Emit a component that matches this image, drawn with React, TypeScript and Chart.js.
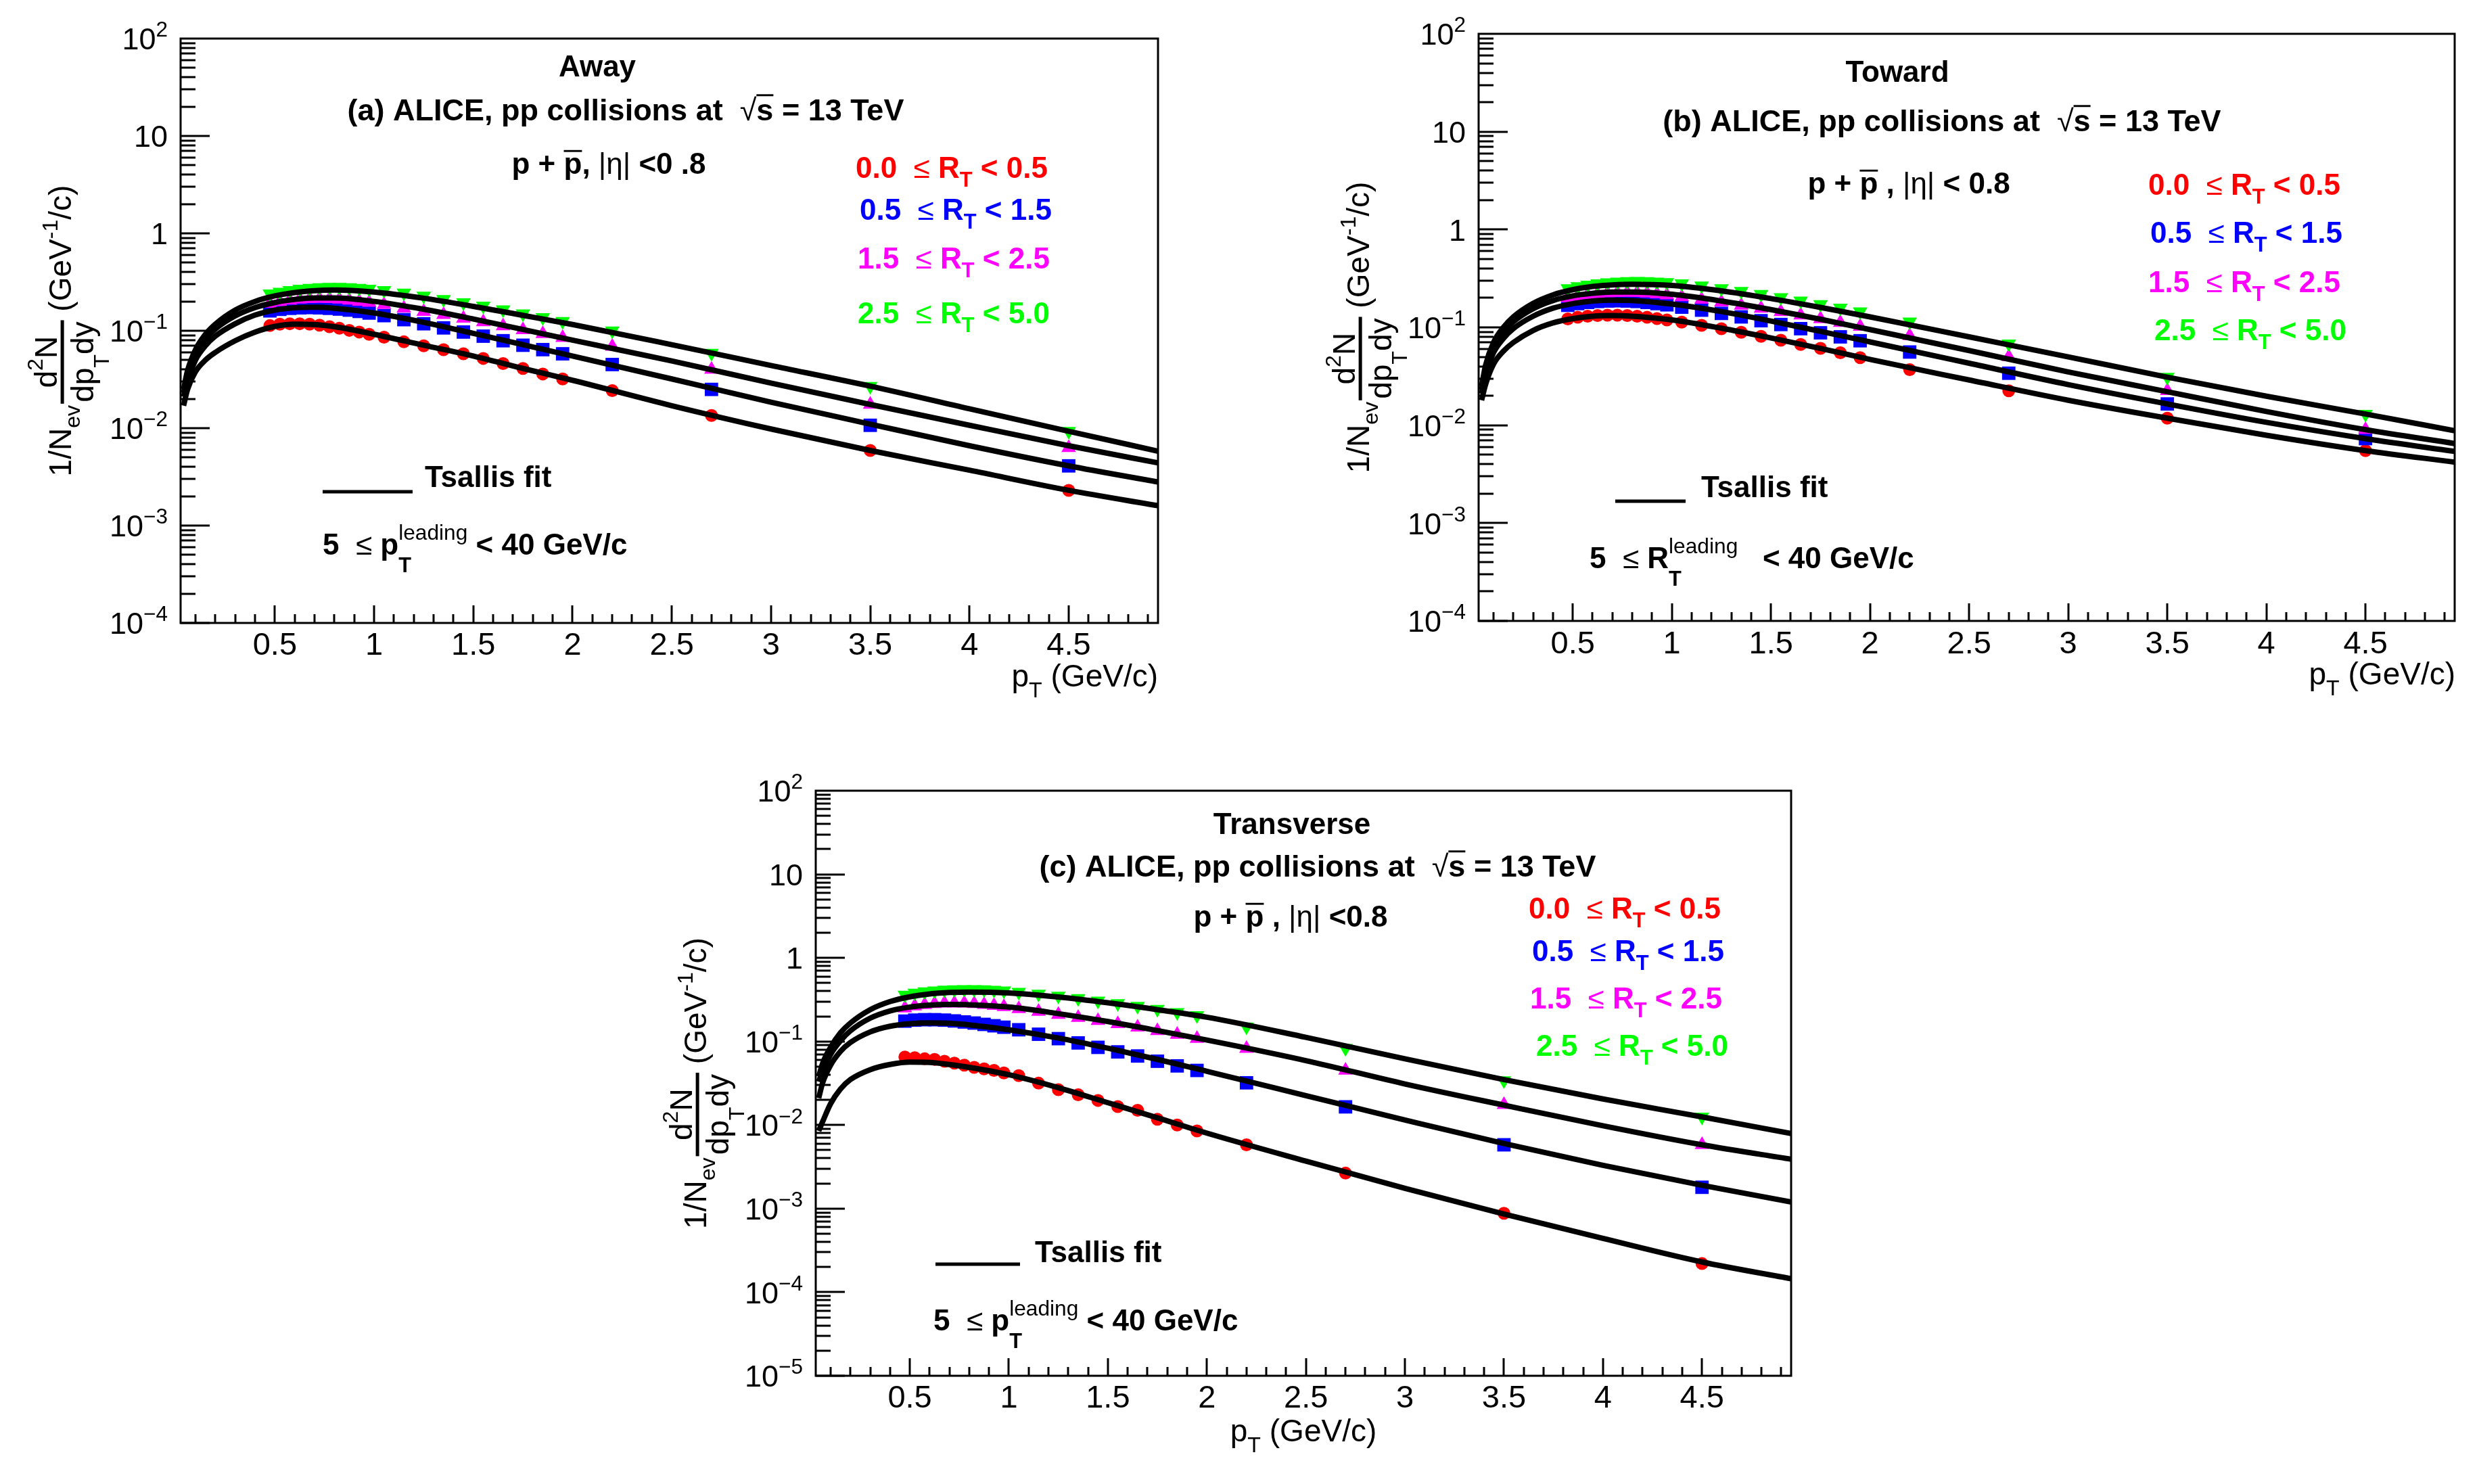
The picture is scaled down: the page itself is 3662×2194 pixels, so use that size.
import { useEffect, useRef } from "react";
import Chart from "chart.js/auto";

const W = 3662;
const H = 2194;
const X_MIN = 0.025;
const X_MAX = 4.95;
const FONT = '"Liberation Sans", Arial, Helvetica, sans-serif';

// pT bin centres of the measured points (GeV/c)
const ptPoints = [
  0.475, 0.525, 0.575, 0.625, 0.675, 0.725, 0.775, 0.825, 0.875, 0.925, 0.975,
  1.05, 1.15, 1.25, 1.35, 1.45, 1.55, 1.65, 1.75, 1.85, 1.95, 2.2, 2.7, 3.5, 4.5,
];
const ptFit = [
  0.04, 0.06, 0.1, 0.15, 0.2, 0.3, 0.4, 0.5, 0.6, 0.7, 0.8, 1.0, 1.25, 1.5, 1.75,
  2.0, 2.5, 3.0, 3.5, 4.0, 4.5, 4.95,
];

// R_T class edges
const rtLow = ["0.0", "0.5", "1.5", "2.5"];
const rtHigh = ["0.5", "1.5", "2.5", "5.0"];

// (a) Away
const awayRt0 = [0.113, 0.117, 0.118, 0.118, 0.117, 0.114, 0.11, 0.106, 0.101, 0.097, 0.092, 0.086, 0.077, 0.07, 0.064, 0.058, 0.052, 0.046, 0.041, 0.036, 0.032, 0.0243, 0.0135, 0.0059, 0.0023];
const awayRt1 = [0.16, 0.166, 0.17, 0.172, 0.173, 0.172, 0.17, 0.167, 0.163, 0.158, 0.152, 0.143, 0.13, 0.118, 0.107, 0.097, 0.088, 0.079, 0.071, 0.064, 0.058, 0.045, 0.025, 0.0107, 0.0041];
const awayRt2 = [0.19, 0.198, 0.205, 0.21, 0.213, 0.214, 0.213, 0.21, 0.205, 0.2, 0.195, 0.185, 0.17, 0.157, 0.146, 0.134, 0.123, 0.112, 0.102, 0.093, 0.085, 0.069, 0.04, 0.0175, 0.0063];
const awayRt3 = [0.24, 0.25, 0.26, 0.268, 0.274, 0.278, 0.28, 0.28, 0.278, 0.274, 0.268, 0.26, 0.245, 0.228, 0.21, 0.195, 0.18, 0.165, 0.15, 0.137, 0.125, 0.1, 0.059, 0.027, 0.0093];
const awayFit0 = [0.017, 0.025, 0.038, 0.05, 0.06, 0.079, 0.097, 0.111, 0.117, 0.116, 0.11, 0.092, 0.071, 0.055, 0.041, 0.031, 0.017, 0.0098, 0.0059, 0.0037, 0.0023, 0.0016];
const awayFit1 = [0.021, 0.031, 0.05, 0.07, 0.088, 0.118, 0.145, 0.163, 0.172, 0.174, 0.17, 0.152, 0.122, 0.094, 0.072, 0.055, 0.032, 0.0185, 0.011, 0.0066, 0.0041, 0.0028];
const awayFit2 = [0.023, 0.035, 0.058, 0.082, 0.104, 0.142, 0.173, 0.195, 0.21, 0.217, 0.217, 0.2, 0.166, 0.132, 0.103, 0.08, 0.049, 0.029, 0.0175, 0.0107, 0.0066, 0.0044];
const awayFit3 = [0.025, 0.039, 0.064, 0.092, 0.117, 0.163, 0.2, 0.228, 0.247, 0.258, 0.262, 0.25, 0.216, 0.178, 0.144, 0.116, 0.072, 0.044, 0.027, 0.0158, 0.0093, 0.0058];

// (b) Toward
const towardRt0 = [0.122, 0.127, 0.13, 0.132, 0.133, 0.133, 0.132, 0.13, 0.127, 0.123, 0.119, 0.113, 0.105, 0.097, 0.089, 0.081, 0.074, 0.067, 0.061, 0.055, 0.049, 0.037, 0.0225, 0.0118, 0.0055];
const towardRt1 = [0.168, 0.175, 0.18, 0.184, 0.186, 0.187, 0.186, 0.184, 0.18, 0.175, 0.17, 0.161, 0.15, 0.139, 0.128, 0.117, 0.107, 0.097, 0.088, 0.08, 0.073, 0.056, 0.034, 0.0165, 0.0073];
const towardRt2 = [0.2, 0.208, 0.215, 0.22, 0.224, 0.226, 0.227, 0.226, 0.223, 0.219, 0.214, 0.205, 0.193, 0.181, 0.168, 0.156, 0.144, 0.133, 0.122, 0.112, 0.102, 0.082, 0.05, 0.0225, 0.009];
const towardRt3 = [0.25, 0.262, 0.272, 0.28, 0.287, 0.292, 0.295, 0.296, 0.295, 0.292, 0.288, 0.28, 0.266, 0.25, 0.234, 0.218, 0.202, 0.187, 0.172, 0.158, 0.145, 0.114, 0.068, 0.031, 0.013];
const towardFit0 = [0.018, 0.026, 0.042, 0.057, 0.07, 0.093, 0.111, 0.123, 0.13, 0.132, 0.13, 0.119, 0.098, 0.078, 0.061, 0.047, 0.029, 0.018, 0.0118, 0.0079, 0.0055, 0.0042];
const towardFit1 = [0.021, 0.033, 0.055, 0.077, 0.097, 0.13, 0.157, 0.175, 0.186, 0.19, 0.188, 0.173, 0.145, 0.116, 0.091, 0.071, 0.043, 0.026, 0.0165, 0.0107, 0.0073, 0.0054];
const towardFit2 = [0.023, 0.037, 0.062, 0.089, 0.114, 0.155, 0.188, 0.21, 0.223, 0.23, 0.23, 0.218, 0.186, 0.152, 0.121, 0.095, 0.058, 0.035, 0.022, 0.0138, 0.009, 0.0065];
const towardFit3 = [0.025, 0.041, 0.07, 0.1, 0.128, 0.176, 0.215, 0.243, 0.262, 0.272, 0.276, 0.268, 0.236, 0.197, 0.16, 0.128, 0.08, 0.05, 0.031, 0.0198, 0.013, 0.0088];

// (c) Transverse
const transRt0 = [0.065, 0.064, 0.062, 0.061, 0.058, 0.055, 0.052, 0.049, 0.047, 0.045, 0.042, 0.039, 0.0317, 0.0265, 0.023, 0.0197, 0.0166, 0.015, 0.0117, 0.01, 0.0085, 0.0058, 0.00266, 0.00088, 0.00022];
const transRt1 = [0.175, 0.18, 0.182, 0.182, 0.18, 0.176, 0.171, 0.166, 0.16, 0.154, 0.148, 0.138, 0.122, 0.108, 0.096, 0.085, 0.075, 0.067, 0.058, 0.051, 0.045, 0.032, 0.0165, 0.0058, 0.0018];
const transRt2 = [0.25, 0.265, 0.275, 0.282, 0.286, 0.287, 0.286, 0.282, 0.276, 0.268, 0.26, 0.246, 0.228, 0.21, 0.193, 0.177, 0.162, 0.148, 0.134, 0.121, 0.108, 0.082, 0.045, 0.0175, 0.0058];
const transRt3 = [0.36, 0.38, 0.395, 0.405, 0.413, 0.418, 0.42, 0.42, 0.418, 0.412, 0.405, 0.39, 0.37, 0.35, 0.328, 0.305, 0.285, 0.264, 0.243, 0.223, 0.205, 0.15, 0.083, 0.034, 0.0125];
const transFit0 = [0.0085, 0.011, 0.018, 0.027, 0.035, 0.046, 0.053, 0.0565, 0.056, 0.053, 0.049, 0.04, 0.028, 0.0185, 0.0122, 0.008, 0.0037, 0.00175, 0.00086, 0.00044, 0.00023, 0.000145];
const transFit1 = [0.021, 0.032, 0.052, 0.076, 0.097, 0.13, 0.152, 0.163, 0.167, 0.165, 0.158, 0.138, 0.11, 0.083, 0.061, 0.044, 0.0225, 0.0115, 0.006, 0.0033, 0.0019, 0.0012];
const transFit2 = [0.033, 0.045, 0.07, 0.102, 0.134, 0.19, 0.232, 0.258, 0.272, 0.277, 0.275, 0.258, 0.215, 0.173, 0.135, 0.104, 0.059, 0.031, 0.0173, 0.0098, 0.0058, 0.0039];
const transFit3 = [0.038, 0.055, 0.085, 0.127, 0.166, 0.24, 0.3, 0.342, 0.37, 0.385, 0.39, 0.38, 0.34, 0.29, 0.24, 0.195, 0.112, 0.062, 0.035, 0.0205, 0.0125, 0.0079];

const colors = ["#ff0000", "#0000ff", "#ff00ff", "#00ff00"];

type Seg = { t: string; k?: number; dy?: number; w?: "b" | "n"; bar?: number; hold?: boolean };
type Pt = { x: number; y: number };

type Panel = {
  key: string;
  frame: { l: number; t: number; r: number; b: number };
  yMinExp: number;
  yMaxExp: number;
  points: number[][];
  fits: number[][];
  region: string;
  regionPos: Pt;
  header: string;
  headerPos: Pt;
  cut: Seg[];
  cutPos: Pt;
  legendPos: Pt[];
  fitLine: { x1: number; x2: number; y: number };
  fitLabel: Pt;
  leadVar: string;
  leadGap: string;
  leadPos: Pt;
  xTitle: Pt & { align: "right" | "center" };
  tickBase: number;
};

const panels: Panel[] = [
  {
    key: "away",
    frame: { l: 267, t: 57, r: 1712, b: 921 },
    yMinExp: -4,
    yMaxExp: 2,
    points: [awayRt0, awayRt1, awayRt2, awayRt3],
    fits: [awayFit0, awayFit1, awayFit2, awayFit3],
    region: "Away",
    regionPos: { x: 883, y: 113 },
    header: "(a)",
    headerPos: { x: 925, y: 178 },
    cut: [{ t: "p + " }, { t: "p", bar: 0.8 }, { t: ", " }, { t: "|η|", w: "n" }, { t: " <0 .8" }],
    cutPos: { x: 900, y: 257 },
    legendPos: [{ x: 1265, y: 263 }, { x: 1271, y: 325 }, { x: 1268, y: 397 }, { x: 1268, y: 478 }],
    fitLine: { x1: 477, x2: 610, y: 727 },
    fitLabel: { x: 628, y: 720 },
    leadVar: "p",
    leadGap: " ",
    leadPos: { x: 477, y: 820 },
    xTitle: { x: 1712, y: 1015, align: "right" },
    tickBase: 968,
  },
  {
    key: "toward",
    frame: { l: 2186, t: 50, r: 3629, b: 918 },
    yMinExp: -4,
    yMaxExp: 2,
    points: [towardRt0, towardRt1, towardRt2, towardRt3],
    fits: [towardFit0, towardFit1, towardFit2, towardFit3],
    region: "Toward",
    regionPos: { x: 2805, y: 121 },
    header: "(b)",
    headerPos: { x: 2871, y: 194 },
    cut: [{ t: "p + " }, { t: "p", bar: 0.8 }, { t: " , " }, { t: "|η|", w: "n" }, { t: " < 0.8" }],
    cutPos: { x: 2822, y: 286 },
    legendPos: [{ x: 3176, y: 288 }, { x: 3179, y: 359 }, { x: 3176, y: 432 }, { x: 3185, y: 503 }],
    fitLine: { x1: 2388, x2: 2492, y: 741 },
    fitLabel: { x: 2515, y: 735 },
    leadVar: "R",
    leadGap: "   ",
    leadPos: { x: 2350, y: 840 },
    xTitle: { x: 3630, y: 1012, align: "right" },
    tickBase: 966,
  },
  {
    key: "transverse",
    frame: { l: 1206, t: 1169, r: 2648, b: 2034 },
    yMinExp: -5,
    yMaxExp: 2,
    points: [transRt0, transRt1, transRt2, transRt3],
    fits: [transFit0, transFit1, transFit2, transFit3],
    region: "Transverse",
    regionPos: { x: 1910, y: 1233 },
    header: "(c)",
    headerPos: { x: 1948, y: 1296 },
    cut: [{ t: "p + " }, { t: "p", bar: 0.8 }, { t: " , " }, { t: "|η|", w: "n" }, { t: " <0.8" }],
    cutPos: { x: 1908, y: 1370 },
    legendPos: [{ x: 2260, y: 1358 }, { x: 2265, y: 1421 }, { x: 2262, y: 1491 }, { x: 2271, y: 1561 }],
    fitLine: { x1: 1383, x2: 1508, y: 1869 },
    fitLabel: { x: 1530, y: 1866 },
    leadVar: "p",
    leadGap: " ",
    leadPos: { x: 1380, y: 1967 },
    xTitle: { x: 1927, y: 2131, align: "center" },
    tickBase: 2081,
  },
];

function fontFor(size: number, bold: boolean) {
  return `${bold ? "bold " : ""}${size.toFixed(1)}px ${FONT}`;
}

function segWidth(ctx: CanvasRenderingContext2D, s: Seg, size: number, bold: boolean) {
  ctx.font = fontFor(size * (s.k ?? 1), s.w ? s.w === "b" : bold);
  return ctx.measureText(s.t).width;
}

function richWidth(ctx: CanvasRenderingContext2D, segs: Seg[], size: number, bold: boolean) {
  let w = 0;
  let held = 0;
  for (const s of segs) {
    const sw = segWidth(ctx, s, size, bold);
    if (s.hold) held = Math.max(held, sw);
    else {
      w += Math.max(sw, held);
      held = 0;
    }
  }
  return w + held;
}

function drawRich(
  ctx: CanvasRenderingContext2D,
  segs: Seg[],
  x: number,
  y: number,
  size: number,
  bold: boolean,
  align: "left" | "center" | "right" = "left",
) {
  const total = richWidth(ctx, segs, size, bold);
  let cx = align === "center" ? x - total / 2 : align === "right" ? x - total : x;
  let held = 0;
  ctx.textAlign = "left";
  ctx.textBaseline = "alphabetic";
  for (const s of segs) {
    const sw = segWidth(ctx, s, size, bold);
    ctx.fillText(s.t, cx, y + (s.dy ?? 0) * size);
    if (s.bar) ctx.fillRect(cx, y - s.bar * size, sw, Math.max(2.5, 0.065 * size));
    if (s.hold) held = Math.max(held, sw);
    else {
      cx += Math.max(sw, held);
      held = 0;
    }
  }
}

// 1/N_ev d2N/(dpT dy) (GeV^-1/c), rotated, baseline at xBase
function drawYTitle(ctx: CanvasRenderingContext2D, xBase: number, yCenter: number) {
  const size = 46;
  const a: Seg[] = [{ t: "1/N" }, { t: "ev", k: 0.7, dy: 0.28 }];
  const num: Seg[] = [{ t: "d" }, { t: "2", k: 0.7, dy: -0.46 }, { t: "N" }];
  const den: Seg[] = [{ t: "dp" }, { t: "T", k: 0.7, dy: 0.5 }, { t: "dy" }];
  const c: Seg[] = [{ t: " (GeV" }, { t: "-1", k: 0.7, dy: -0.44 }, { t: "/c)" }];
  const wa = richWidth(ctx, a, size, false);
  const wf = Math.max(richWidth(ctx, num, size, false), richWidth(ctx, den, size, false)) + 4;
  const wc = richWidth(ctx, c, size, false);
  const gap = 2;
  const total = wa + gap + wf + wc;
  ctx.save();
  ctx.translate(xBase, yCenter);
  ctx.rotate(-Math.PI / 2);
  let x = -total / 2;
  drawRich(ctx, a, x, 0, size, false);
  x += wa + gap;
  drawRich(ctx, num, x + wf / 2, -0.46 * size, size, false, "center");
  drawRich(ctx, den, x + wf / 2, 0.72 * size, size, false, "center");
  ctx.fillRect(x, -0.28 * size - 2.5, wf, 5);
  x += wf;
  drawRich(ctx, c, x, 0, size, false);
  ctx.restore();
}

function decorPlugin(p: Panel) {
  return {
    id: "rootDecor",
    afterDraw(chart: any) {
      const ctx = chart.ctx as CanvasRenderingContext2D;
      const xs = chart.scales.x;
      const ys = chart.scales.y;
      const { l, t, r, b } = p.frame;
      ctx.save();
      ctx.strokeStyle = "#000";
      ctx.fillStyle = "#000";
      ctx.lineWidth = 3;
      ctx.strokeRect(l, t, r - l, b - t);

      ctx.beginPath();
      for (let e = p.yMinExp; e < p.yMaxExp; e++) {
        for (let k = 1; k <= 9; k++) {
          const y = Math.round(ys.getPixelForValue(k * Math.pow(10, e)));
          ctx.moveTo(l, y);
          ctx.lineTo(l + (k === 1 ? 43 : 22), y);
        }
      }
      for (let i = 1; i < 50; i++) {
        const v = i / 10;
        if (v <= X_MIN || v >= X_MAX) continue;
        const x = Math.round(xs.getPixelForValue(v));
        ctx.moveTo(x, b);
        ctx.lineTo(x, b - (i % 5 === 0 ? 26 : 13));
      }
      ctx.stroke();

      // y tick labels
      const yls = 45;
      for (let e = p.yMinExp; e <= p.yMaxExp; e++) {
        const y = ys.getPixelForValue(Math.pow(10, e)) + 0.36 * yls;
        const segs: Seg[] =
          e === 0 ? [{ t: "1" }] : e === 1 ? [{ t: "10" }] : [{ t: "10" }, { t: e < 0 ? "\u2212" + -e : String(e), k: 0.7, dy: -0.42 }];
        drawRich(ctx, segs, l - 19, y, yls, false, "right");
      }
      // x tick labels
      for (let i = 1; i <= 9; i++) {
        const v = i * 0.5;
        drawRich(ctx, [{ t: String(v) }], xs.getPixelForValue(v), p.tickBase, 47, false, "center");
      }
      // axis titles
      drawRich(ctx, [{ t: "p" }, { t: "T", k: 0.7, dy: 0.35 }, { t: " (GeV/c)" }], p.xTitle.x, p.xTitle.y, 46, false, p.xTitle.align);
      drawYTitle(ctx, l - 162, (t + b) / 2);

      // labels inside the frame
      const bs = 44;
      drawRich(ctx, [{ t: p.region }], p.regionPos.x, p.regionPos.y, bs, true, "center");
      drawRich(
        ctx,
        [{ t: `${p.header} ALICE, pp collisions at  ` }, { t: "\u221a", w: "n" }, { t: "s", bar: 0.86 }, { t: " = 13 TeV" }],
        p.headerPos.x,
        p.headerPos.y,
        45,
        true,
        "center",
      );
      drawRich(ctx, p.cut, p.cutPos.x, p.cutPos.y, bs, true, "center");
      p.legendPos.forEach((pos, i) => {
        ctx.fillStyle = colors[i];
        drawRich(
          ctx,
          [{ t: `${rtLow[i]}  ` }, { t: "\u2264", w: "n" }, { t: " R" }, { t: "T", k: 0.7, dy: 0.3 }, { t: ` < ${rtHigh[i]}` }],
          pos.x,
          pos.y,
          bs,
          true,
        );
      });
      ctx.fillStyle = "#000";
      ctx.fillRect(p.fitLine.x1, p.fitLine.y - 2.5, p.fitLine.x2 - p.fitLine.x1, 5);
      drawRich(ctx, [{ t: "Tsallis fit" }], p.fitLabel.x, p.fitLabel.y, bs, true);
      drawRich(
        ctx,
        [
          { t: "5  " },
          { t: "\u2264", w: "n" },
          { t: ` ${p.leadVar}` },
          { t: "T", k: 0.7, dy: 0.6, hold: true },
          { t: "leading", k: 0.72, dy: -0.5, w: "n" },
          { t: `${p.leadGap}< 40 GeV/c` },
        ],
        p.leadPos.x,
        p.leadPos.y,
        bs,
        true,
      );
      ctx.restore();
    },
  };
}

const markerStyles = ["circle", "rect", "triangle", "triangle"];
const markerRadius = [9.5, 14, 12.5, 12.5];
const markerRotation = [0, 0, 0, 180];

function buildConfig(p: Panel): any {
  const datasets: any[] = [];
  p.fits.forEach((vals, i) => {
    datasets.push({
      type: "line",
      label: `fit ${rtLow[i]}-${rtHigh[i]}`,
      data: ptFit.map((x, j) => ({ x, y: vals[j] })),
      borderColor: "#000",
      borderWidth: 8,
      pointRadius: 0,
      fill: false,
      cubicInterpolationMode: "monotone",
      order: 0,
    });
  });
  p.points.forEach((vals, i) => {
    datasets.push({
      type: "scatter",
      label: `${rtLow[i]} <= RT < ${rtHigh[i]}`,
      data: ptPoints.map((x, j) => ({ x, y: vals[j] })),
      pointStyle: markerStyles[i],
      pointRadius: markerRadius[i],
      pointRotation: markerRotation[i],
      backgroundColor: colors[i],
      borderColor: colors[i],
      borderWidth: 0,
      order: 4 - i,
    });
  });
  const f = p.frame;
  return {
    type: "scatter",
    data: { datasets },
    options: {
      responsive: false,
      devicePixelRatio: 1,
      animation: false,
      events: [],
      layout: { padding: { left: f.l, top: f.t, right: W - f.r, bottom: H - f.b } },
      plugins: { legend: { display: false }, tooltip: { enabled: false } },
      scales: {
        x: { type: "linear", min: X_MIN, max: X_MAX, display: false },
        y: { type: "logarithmic", min: Math.pow(10, p.yMinExp), max: Math.pow(10, p.yMaxExp), display: false },
      },
    },
    plugins: [decorPlugin(p)],
  };
}

function PanelCanvas({ panel }: { panel: Panel }) {
  const ref = useRef<HTMLCanvasElement>(null);

  useEffect(() => {
    if (!ref.current) return;
    const chart = new Chart(ref.current, buildConfig(panel));
    return () => {
      chart.destroy();
    };
  }, [panel]);

  return (
    <canvas
      ref={ref}
      width={W}
      height={H}
      style={{ position: "absolute", left: 0, top: 0, width: W, height: H }}
    />
  );
}

export default function App() {
  useEffect(() => {
    document.body.style.margin = "0";
  }, []);

  return (
    <div style={{ position: "relative", width: W, height: H, background: "#fff", overflow: "hidden" }}>
      {panels.map((p) => (
        <PanelCanvas key={p.key} panel={p} />
      ))}
    </div>
  );
}
